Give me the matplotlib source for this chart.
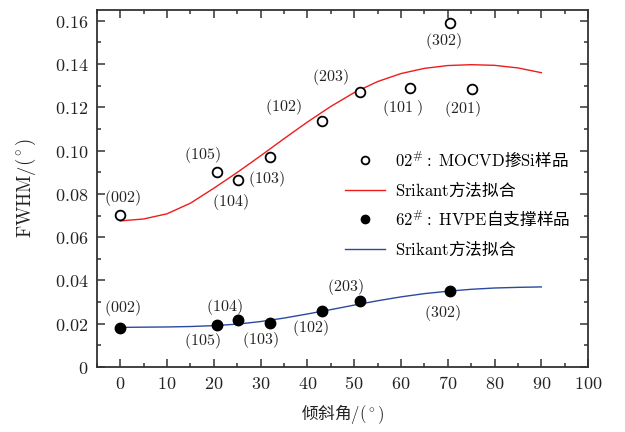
"""FWHM 随倾斜角变化图 (MOCVD 与 HVPE 样品)"""

import matplotlib
matplotlib.use("Agg")
import matplotlib.pyplot as plt
from matplotlib.ticker import MultipleLocator, FixedLocator, FixedFormatter

# 中文用 Noto Sans CJK SC，西文/数字用 mathtext 的 Computer Modern
plt.rcParams["font.family"] = ["Noto Sans CJK SC", "DejaVu Sans"]
plt.rcParams["mathtext.fontset"] = "cm"
plt.rcParams["axes.unicode_minus"] = False

# MOCVD 掺 Si 样品 (02#)
mocvd_angle = [0, 20.7, 25.1, 32.0, 43.1, 51.3, 62.0, 70.5, 75.1]
mocvd_fwhm = [0.0701, 0.0902, 0.0863, 0.0971, 0.1137, 0.1272, 0.1287, 0.1588, 0.1285]
mocvd_hkl = ["(002)", "(105)", "(104)", "(103)", "(102)", "(203)", "(101\\ )", "(302)", "(201)"]

# HVPE 自支撑样品 (62#)
hvpe_angle = [0, 20.7, 25.1, 32.0, 43.1, 51.3, 70.5]
hvpe_fwhm = [0.0180, 0.0196, 0.0219, 0.0201, 0.0258, 0.0305, 0.0350]
hvpe_hkl = ["(002)", "(105)", "(104)", "(103)", "(102)", "(203)", "(302)"]

# Srikant 拟合曲线
fit_angle = [0, 5, 10, 15, 20, 25, 30, 35, 40, 45, 50, 55, 60, 65, 70, 75, 80, 85, 90]
fit_mocvd = [0.0675, 0.0684, 0.0708, 0.0757, 0.0826, 0.0899, 0.0976, 0.1055, 0.1132,
             0.1204, 0.1268, 0.1319, 0.1356, 0.1380, 0.1393, 0.1397, 0.1394, 0.1382, 0.1360]
fit_hvpe = [0.0183, 0.0184, 0.0185, 0.0187, 0.0191, 0.0198, 0.0210, 0.0226, 0.0245,
            0.0265, 0.0286, 0.0306, 0.0324, 0.0339, 0.0350, 0.0359, 0.0365, 0.0368, 0.0370]

x_ticks = [0, 10, 20, 30, 40, 50, 60, 70, 80, 90, 100]
y_ticks = [0, 0.02, 0.04, 0.06, 0.08, 0.10, 0.12, 0.14, 0.16]
y_tick_labels = ["0", "0.02", "0.04", "0.06", "0.08", "0.10", "0.12", "0.14", "0.16"]

# 标注偏移 (像素)
mocvd_offsets = [(2, 17), (-15, 17), (-7, -22), (-4, -22), (-39, 14), (-30, 15), (-8, -20), (-7, -18), (-9, -20)]
hvpe_offsets = [(2, 20), (-15, -16), (-13, 13), (-10, -17), (-12, -17), (-15, 14), (-8, -22)]

fig = plt.figure(figsize=(6.25, 4.32), dpi=100)
ax = fig.add_axes([0.155, 0.1505, 0.786, 0.8265])

red = "#ee1c1c"
blue = "#2b4a9e"
txt = "#222222"

h1, = ax.plot(mocvd_angle, mocvd_fwhm, "o", ms=7, mfc="white", mec="black", mew=1.3,
              label=r"$02^{\#}\mathrm{:}\ \mathrm{MOCVD}$掺$\mathrm{Si}$样品", zorder=3)
h2, = ax.plot(fit_angle, fit_mocvd, "-", color=red, lw=1.0, label=r"$\mathrm{Srikant}$方法拟合")
h3, = ax.plot(hvpe_angle, hvpe_fwhm, "o", ms=7.5, mfc="black", mec="black",
              label=r"$62^{\#}\mathrm{:}\ \mathrm{HVPE}$自支撑样品", zorder=3)
h4, = ax.plot(fit_angle, fit_hvpe, "-", color=blue, lw=1.0, label=r"$\mathrm{Srikant}$方法拟合")

for xa, ya, t, off in zip(mocvd_angle, mocvd_fwhm, mocvd_hkl, mocvd_offsets):
    ax.annotate("$" + t + "$", (xa, ya), xytext=off, textcoords="offset pixels",
                ha="center", va="center", fontsize=11.5, color=txt)
for xa, ya, t, off in zip(hvpe_angle, hvpe_fwhm, hvpe_hkl, hvpe_offsets):
    ax.annotate("$" + t + "$", (xa, ya), xytext=off, textcoords="offset pixels",
                ha="center", va="center", fontsize=11.5, color=txt)

ax.set_xlim(-5, 100)
ax.set_ylim(0, 0.165)
ax.xaxis.set_major_locator(FixedLocator(x_ticks))
ax.xaxis.set_major_formatter(FixedFormatter(["$%d$" % v for v in x_ticks]))
ax.xaxis.set_minor_locator(MultipleLocator(5))
ax.yaxis.set_major_locator(FixedLocator(y_ticks))
ax.yaxis.set_major_formatter(FixedFormatter(["$" + s + "$" for s in y_tick_labels]))
ax.yaxis.set_minor_locator(MultipleLocator(0.01))
ax.tick_params(which="both", direction="in", top=True, right=True, width=1.1,
               colors="#333333", labelcolor=txt, labelsize=13)
ax.tick_params(which="major", length=6, pad=6)
ax.tick_params(which="minor", length=3)
for s in ax.spines.values():
    s.set_linewidth(1.3)
    s.set_color("#333333")

ax.set_xlabel(r"倾斜角$/(^\circ)$", fontsize=12, color=txt, labelpad=6)
ax.set_ylabel(r"$\mathrm{FWHM}/(^\circ)$", fontsize=13.5, color=txt, labelpad=12)

leg_kw = dict(loc="upper left", frameon=False, fontsize=12, borderpad=0, borderaxespad=0,
              handlelength=2.4, handletextpad=0.6, labelspacing=0.6, markerscale=0.8)
leg1 = ax.legend(handles=[h1, h2], bbox_to_anchor=(0.505, 0.605), **leg_kw)
ax.add_artist(leg1)
ax.legend(handles=[h3, h4], bbox_to_anchor=(0.505, 0.44), **leg_kw)

fig.savefig("out.png", dpi=100)
